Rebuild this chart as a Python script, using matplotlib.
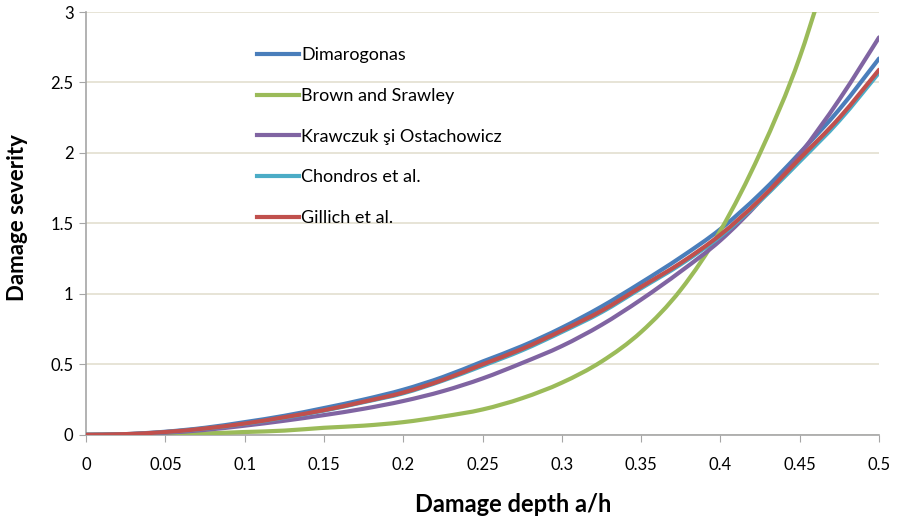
import numpy as np
import matplotlib
matplotlib.use("Agg")
import matplotlib.pyplot as plt
from matplotlib.path import Path
from matplotlib.patches import PathPatch
from matplotlib.lines import Line2D

# damage depth a/h
depth = [0, 0.025, 0.05, 0.075, 0.1, 0.125, 0.15, 0.175, 0.2, 0.225, 0.25,
         0.275, 0.3, 0.325, 0.35, 0.375, 0.4, 0.425, 0.45, 0.475, 0.5]

dimarogonas = [0, 0.005, 0.022, 0.05, 0.09, 0.135, 0.19, 0.25, 0.32, 0.41, 0.52,
               0.63, 0.76, 0.91, 1.08, 1.26, 1.46, 1.71, 2.0, 2.31, 2.67]
brown_srawley = [0, 0.002, 0.005, 0.01, 0.02, 0.03, 0.05, 0.065, 0.09, 0.13, 0.18,
                 0.26, 0.37, 0.52, 0.73, 1.03, 1.45, 2.0, 2.68, 3.6, 4.6]
krawczuk = [0, 0.004, 0.015, 0.035, 0.065, 0.10, 0.14, 0.185, 0.24, 0.31, 0.40,
            0.51, 0.63, 0.78, 0.96, 1.16, 1.38, 1.66, 1.99, 2.38, 2.82]
chondros = [0, 0.004, 0.019, 0.044, 0.078, 0.122, 0.172, 0.232, 0.295, 0.385, 0.49,
            0.60, 0.73, 0.87, 1.04, 1.21, 1.41, 1.66, 1.94, 2.23, 2.57]
gillich = [0, 0.005, 0.02, 0.045, 0.08, 0.125, 0.175, 0.235, 0.30, 0.39, 0.50,
           0.61, 0.74, 0.88, 1.05, 1.22, 1.42, 1.67, 1.96, 2.25, 2.59]

series = [
    ("Dimarogonas", dimarogonas, "#4A7EBB"),
    ("Brown and Srawley", brown_srawley, "#9BBB59"),
    ("Krawczuk şi Ostachowicz", krawczuk, "#8064A2"),
    ("Chondros et al.", chondros, "#4BACC6"),
    ("Gillich et al.", gillich, "#C0504D"),
]


def smooth_path(x, y):
    # Excel-style smoothed line: bezier segments through the data points
    x = np.asarray(x, float)
    y = np.asarray(y, float)
    verts = [(x[0], y[0])]
    codes = [Path.MOVETO]
    n = len(x)
    for i in range(n - 1):
        p0 = np.array([x[max(i - 1, 0)], y[max(i - 1, 0)]])
        p1 = np.array([x[i], y[i]])
        p2 = np.array([x[i + 1], y[i + 1]])
        p3 = np.array([x[min(i + 2, n - 1)], y[min(i + 2, n - 1)]])
        c1 = p1 + (p2 - p0) / 6.0
        c2 = p2 - (p3 - p1) / 6.0
        verts += [tuple(c1), tuple(c2), tuple(p2)]
        codes += [Path.CURVE4] * 3
    return Path(verts, codes)


plt.rcParams['font.family'] = ['Lato', 'DejaVu Sans']

fig = plt.figure(figsize=(8.97, 5.22), dpi=100)
ax = fig.add_axes([0.096, 0.167, 0.884, 0.81])

handles = []
for name, vals, col in series:
    ax.add_patch(PathPatch(smooth_path(depth, vals), fill=False, edgecolor=col,
                           lw=3, capstyle='round', joinstyle='round', zorder=3))
    handles.append(Line2D([], [], color=col, lw=3, label=name))

ax.set_xlim(0, 0.5)
ax.set_ylim(0, 3)
ax.set_xticks(np.arange(0, 0.501, 0.05))
ax.set_xticklabels(['0', '0.05', '0.1', '0.15', '0.2', '0.25', '0.3', '0.35', '0.4', '0.45', '0.5'])
ax.set_yticks(np.arange(0, 3.01, 0.5))
ax.set_yticklabels(['0', '0.5', '1', '1.5', '2', '2.5', '3'])

ax.grid(axis='y', color='#E3DFCF', lw=1.2)
ax.set_axisbelow(True)
for s in ['top', 'right']:
    ax.spines[s].set_visible(False)
for s in ['left', 'bottom']:
    ax.spines[s].set_color('#A6A6A6')
    ax.spines[s].set_linewidth(1.2)
ax.tick_params(axis='both', colors='#A6A6A6', labelcolor='black', length=5, labelsize=12)
ax.tick_params(axis='x', pad=11)
ax.tick_params(axis='y', pad=4)

fig.text(18 / 897, 1 - 218 / 522, 'Damage severity', rotation=90, fontsize=16,
         fontweight='bold', ha='center', va='center')
fig.text(513 / 897, 1 - 505 / 522, 'Damage depth a/h', fontsize=17,
         fontweight='bold', ha='center', va='center')

ax.legend(handles=handles, loc='upper left', bbox_to_anchor=(0.195, 0.955), frameon=False,
          fontsize=13, handlelength=2.3, handletextpad=0.15, labelspacing=1.37)

fig.savefig('out.png', dpi=100)
